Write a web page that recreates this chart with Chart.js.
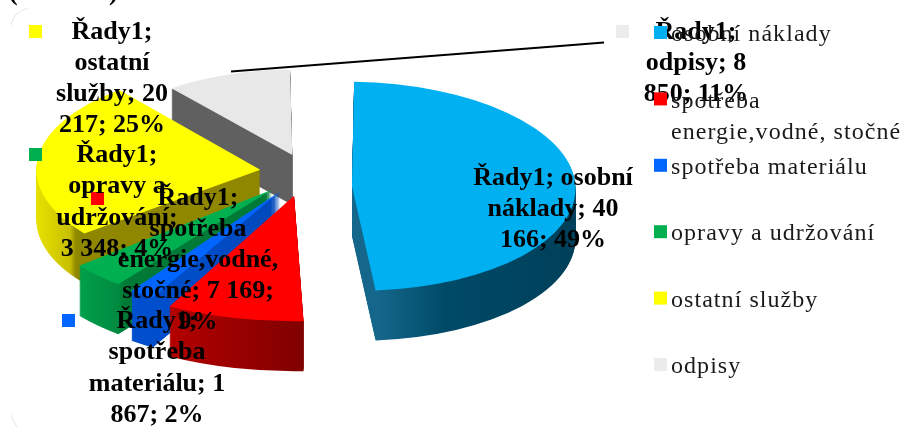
<!DOCTYPE html>
<html><head><meta charset="utf-8">
<style>html,body{margin:0;padding:0;background:#fff}#w{width:906px;height:427px}</style>
<script src="https://cdn.jsdelivr.net/npm/chart.js@4"></script></head>
<body><div id="w"><canvas id="c" width="906" height="427"></canvas></div>
<script>
const categories=['osobní náklady','spotřeba energie,vodné, stočné','spotřeba materiálu','opravy a udržování','ostatní služby','odpisy'];
const values=[40166,7169,1867,3348,20217,8850];
const legendLines=[['osobní náklady'],['spotřeba','energie,vodné, stočné'],['spotřeba materiálu'],['opravy a udržování'],['ostatní služby'],['odpisy']];
const labelLines=[
 ['Řady1; osobní','náklady; 40','166; 49%'],
 ['Řady1;','spotřeba','energie,vodné,','stočné; 7 169;','9%'],
 ['Řady1;','spotřeba','materiálu; 1','867; 2%'],
 ['Řady1;','opravy a','udržování;','3 348; 4%'],
 ['Řady1;','ostatní','služby; 20','217; 25%'],
 ['Řady1;','odpisy; 8','850; 11%']];
const colors=['#00b0f0','#ff0000','#0066ff','#00b050','#ffff00','#e8e8e8'];
const keyColors=['#00b0f0','#ff0000','#0066ff','#00b050','#ffff00','#ececec'];
const explode=[240,176,160,160,160,176]; // Chart.js moves an arc by offset/4
const wallStops=[
 [[373,'#14678a'],[440,'#004a68'],[570,'#00405a']],
 [[170,'#b30000'],[306,'#7f0000']],
 [[125,'#0050d0'],[300,'#0047b8']],
 [[80,'#00a04a'],[118,'#008a40'],[125,'#007a36'],[290,'#007a36']],
 [[37,'#e8e000'],[70,'#c8c000'],[76,'#8f8700'],[280,'#8f8700']],
 [[170,'#606060'],[300,'#606060']]];
const drawOrder=[5,0,4,3,2,1];
const nudgeX=[-8,4,2,0,0,7];
const nudgeY=[12,0,0,1,-3,0];
const widen=[1.03,1.02,1,1,1.05,1.1];
const shear=[0.05,0,0,0,0,0];
const labelPos=[[553,178,31],[198,198,31],[157,321,31.5],[117,155,31.5],[112,32,31],[696,32,31]];
const markerPos=[[455,175],[97,199],[68,321],[35,155],[35,32],[622,32]];
const squash=0.482, depth=50, persp=0.2, R=218;

const pie3d={id:'pie3d',
 beforeDatasetsDraw(chart){
  const ctx=chart.ctx,meta=chart.getDatasetMeta(0);
  drawOrder.forEach(i=>{
   const el=meta.data[i],off=el.options.offset/4;
   const mid=(el.startAngle+el.endAngle)/2;
   const clock=mid+Math.PI/2;
   const circ=el.endAngle-el.startAngle;
   const grown=off*(1-Math.sin(Math.min(Math.PI,circ))); // radius growth inside ArcElement.draw
   const p=(1-persp*Math.cos(clock))*R/(R+grown);
   const px=p*widen[i];
   const ax=el.x+off*Math.cos(mid),ay=el.y+off*Math.sin(mid);
   const sx=ax+nudgeX[i];
   const sy=el.y+off*Math.sin(mid)*squash+nudgeY[i];
   const paint=(dy,fill)=>{
    ctx.save();
    ctx.translate(sx,sy+dy);
    ctx.transform(1,0,shear[i],1,0,0);
    ctx.scale(px,p*squash);
    ctx.translate(-ax,-ay);
    const ghost=Object.create(el);
    ghost.options=Object.assign({},el.options,{backgroundColor:fill,borderWidth:0});
    el.draw.call(ghost,ctx);
    ctx.restore();
   };
   const toLocal=X=>el.x+(X-sx)/px; // the arc's own translate is active when it fills
   const g=ctx.createLinearGradient(toLocal(0),0,toLocal(906),0);
   wallStops[i].forEach(s=>g.addColorStop(s[0]/906,s[1]));
   for(let d=depth;d>0;d-=1)paint(d,g);
   paint(0,colors[i]);
  });
  return false;
 },
 afterDraw(chart){
  const ctx=chart.ctx;
  ctx.save();
  ctx.strokeStyle='#e4e4e4';ctx.lineWidth=1;
  ctx.beginPath();ctx.moveTo(11,25);ctx.quadraticCurveTo(13,12,28,8);ctx.stroke();
  ctx.beginPath();ctx.moveTo(11,415);ctx.quadraticCurveTo(13,421,17,427);ctx.stroke();
  ctx.fillStyle='#000';ctx.font='bold 26px "Liberation Serif"';ctx.textBaseline='middle';ctx.textAlign='left';
  ctx.fillText('(',9,-7);ctx.fillText(')',109,-7);
  ctx.strokeStyle='#000';ctx.lineWidth=2;
  ctx.beginPath();ctx.moveTo(231,71.5);ctx.lineTo(560,46);ctx.lineTo(604,42.5);ctx.stroke();
  labelLines.forEach((ls,i)=>{
   const m=markerPos[i];
   ctx.fillStyle=keyColors[i];ctx.fillRect(m[0]-6,m[1]-7,13,13);
   const [x,y,st]=labelPos[i];
   ctx.fillStyle='#000';ctx.textAlign='center';ctx.font='bold 26px "Liberation Serif"';
   ls.forEach((t,k)=>ctx.fillText(t,x,y+k*st));
  });
  ctx.textAlign='left';
  ctx.font='24px "Liberation Serif"';
  if('letterSpacing' in ctx)ctx.letterSpacing='1.05px';
  legendLines.forEach((ls,i)=>{
   const y=33+i*66.4;
   ctx.fillStyle=keyColors[i];ctx.fillRect(654,y-7,13,13);
   ctx.fillStyle='#1a1a1a';
   ls.forEach((t,k)=>ctx.fillText(t,671,y+2+k*31));
  });
  ctx.restore();
 }};
new Chart(document.getElementById('c'),{type:'pie',
 data:{labels:categories,datasets:[{data:values,backgroundColor:colors,borderWidth:0,offset:explode,hoverOffset:0}]},
 options:{responsive:false,animation:false,events:[],radius:R,
  layout:{padding:{left:0,top:0,right:306,bottom:77}},
  plugins:{legend:{display:false},tooltip:{enabled:false},title:{display:false}}},
 plugins:[pie3d]});
</script></body></html>
